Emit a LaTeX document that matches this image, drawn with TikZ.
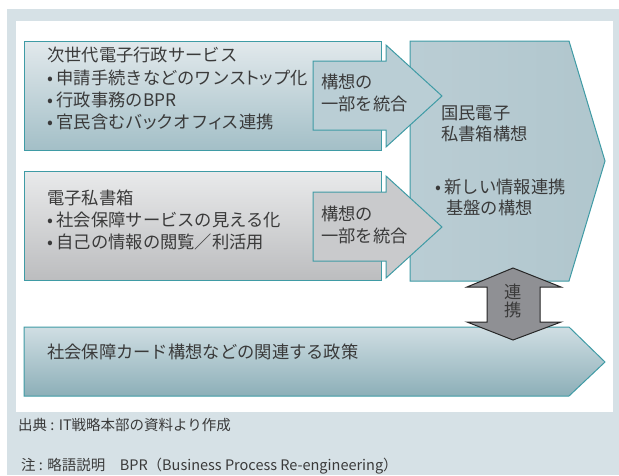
\documentclass[tikz,border=0pt]{standalone}
\usepackage{fontspec}
\setmainfont{Noto Sans CJK JP}
\newfontfamily\paltfont[RawFeature=+palt]{Noto Sans CJK JP}
\newcommand{\smk}[1]{{\paltfont #1}}
\definecolor{bgblue}{HTML}{D6E1E6}
\definecolor{tealline}{HTML}{3F9BA5}
\definecolor{txtgray}{HTML}{3A3A3A}
\definecolor{boxAtop}{HTML}{E2E9EC}
\definecolor{boxAbot}{HTML}{A3BFC7}
\definecolor{arrA}{HTML}{BACED5}
\definecolor{boxBtop}{HTML}{E9EAEB}
\definecolor{boxBbot}{HTML}{BCBDBF}
\definecolor{arrB}{HTML}{C9CACC}
\definecolor{penL}{HTML}{BACDD4}
\definecolor{penM}{HTML}{E2E9EC}
\definecolor{penR}{HTML}{B0C6CD}
\definecolor{botTop}{HTML}{D0DEE3}
\definecolor{botBot}{HTML}{8CAFB8}
\definecolor{dblfill}{HTML}{8F9094}
\tikzset{
  shapeline/.style={draw=tealline, line width=1pt, line join=miter},
  txt/.style={inner sep=0pt, anchor=west, text=txtgray, text height=0.88em, text depth=0.12em,
    font=\fontsize{17.3}{20}\selectfont},
  ctxt/.style={txt, anchor=center},
  foot/.style={inner sep=0pt, anchor=west, text=txtgray, text height=0.88em, text depth=0.12em,
    font=\fontsize{14.5}{17}\selectfont},
}
\begin{document}
\begin{tikzpicture}[x=1pt,y=-1pt]
\useasboundingbox (0,0) rectangle (619,475);
\fill[white] (0,0) rectangle (619,475);
\fill[bgblue] (7,9) rectangle (619,475);
\fill[white] (16,21) rectangle (613,412);

% top left box
\path[shapeline, top color=boxAtop, bottom color=boxAbot] (24,41) rectangle (381,150);
% second left box
\path[shapeline, top color=boxBtop, bottom color=boxBbot] (24,171) rectangle (381,280);
% pentagon
\path[shapeline, left color=penL, middle color=penM, right color=penR]
  (410,41) -- (569,41) -- (605,161) -- (569,281) -- (410,281) -- cycle;
% bottom arrow
\path[shapeline, top color=botTop, bottom color=botBot]
  (24,327) -- (569,327) -- (605,362) -- (569,396) -- (24,396) -- cycle;
% arrow 1
\path[shapeline, fill=arrA]
  (313,61) -- (386,61) -- (386,45) -- (442,96) -- (386,147) -- (386,130) -- (313,130) -- cycle;
% arrow 2
\path[shapeline, fill=arrB]
  (313,192) -- (386,192) -- (386,176) -- (442,227) -- (386,278) -- (386,261) -- (313,261) -- cycle;
% double arrow
\path[draw=black!85, line width=1pt, fill=dblfill, line join=miter]
  (513,268) -- (561,287) -- (540,287) -- (540,322) -- (561,322) -- (513,340)
  -- (467,322) -- (487,322) -- (487,287) -- (467,287) -- cycle;

% texts top box
\node[txt] (a1) at (47,58) {次世代電子行政サービス};
\node[txt] (a2) at (47,80.5) {•\hspace{0.2em}申請手続きなどのワンス\smk{トッ}プ化};
\node[txt] (a3) at (47,103) {•\hspace{0.2em}行政事務のBPR};
\node[txt] (a4) at (47,125) {•\hspace{0.2em}官民含むバ\smk{ッ}クオフ\smk{ィ}ス連携};
% second box
\node[txt] (b1) at (47,201) {電子私書箱};
\node[txt] (b2) at (47,223) {•\hspace{0.2em}社会保障サービスの見える化};
\node[txt] (b3) at (47,245) {•\hspace{0.2em}自己の情報の閲覧／利活用};
% arrows
\node[txt] (c1) at (321,85) {構想の};
\node[txt] (c2) at (321,107) {一部を統合};
\node[txt] (d1) at (321,216.5) {構想の};
\node[txt] (d2) at (321,238.5) {一部を統合};
% pentagon
\node[txt] (p1) at (441,116) {国民電子};
\node[txt] (p2) at (441,137) {私書箱構想};
\node[txt] (p3) at (435,190) {•\hspace{0.2em}新しい情報連携};
\node[txt] (p4) at (446,211) {基盤の構想};
% double arrow
\node[ctxt] (r1) at (513,295) {連};
\node[ctxt] (r2) at (513,313) {携};
% bottom
\node[txt] (s1) at (47,355) {社会保障カード構想などの関連する政策};
% footers
\node[foot] (f1) at (18,426.5) {出典 : IT戦略本部の資料より作成};
\node[foot] (f2) at (21,467) {注 : 略語説明　BPR（Business Process Re-engineering）};
\end{tikzpicture}
\end{document}
